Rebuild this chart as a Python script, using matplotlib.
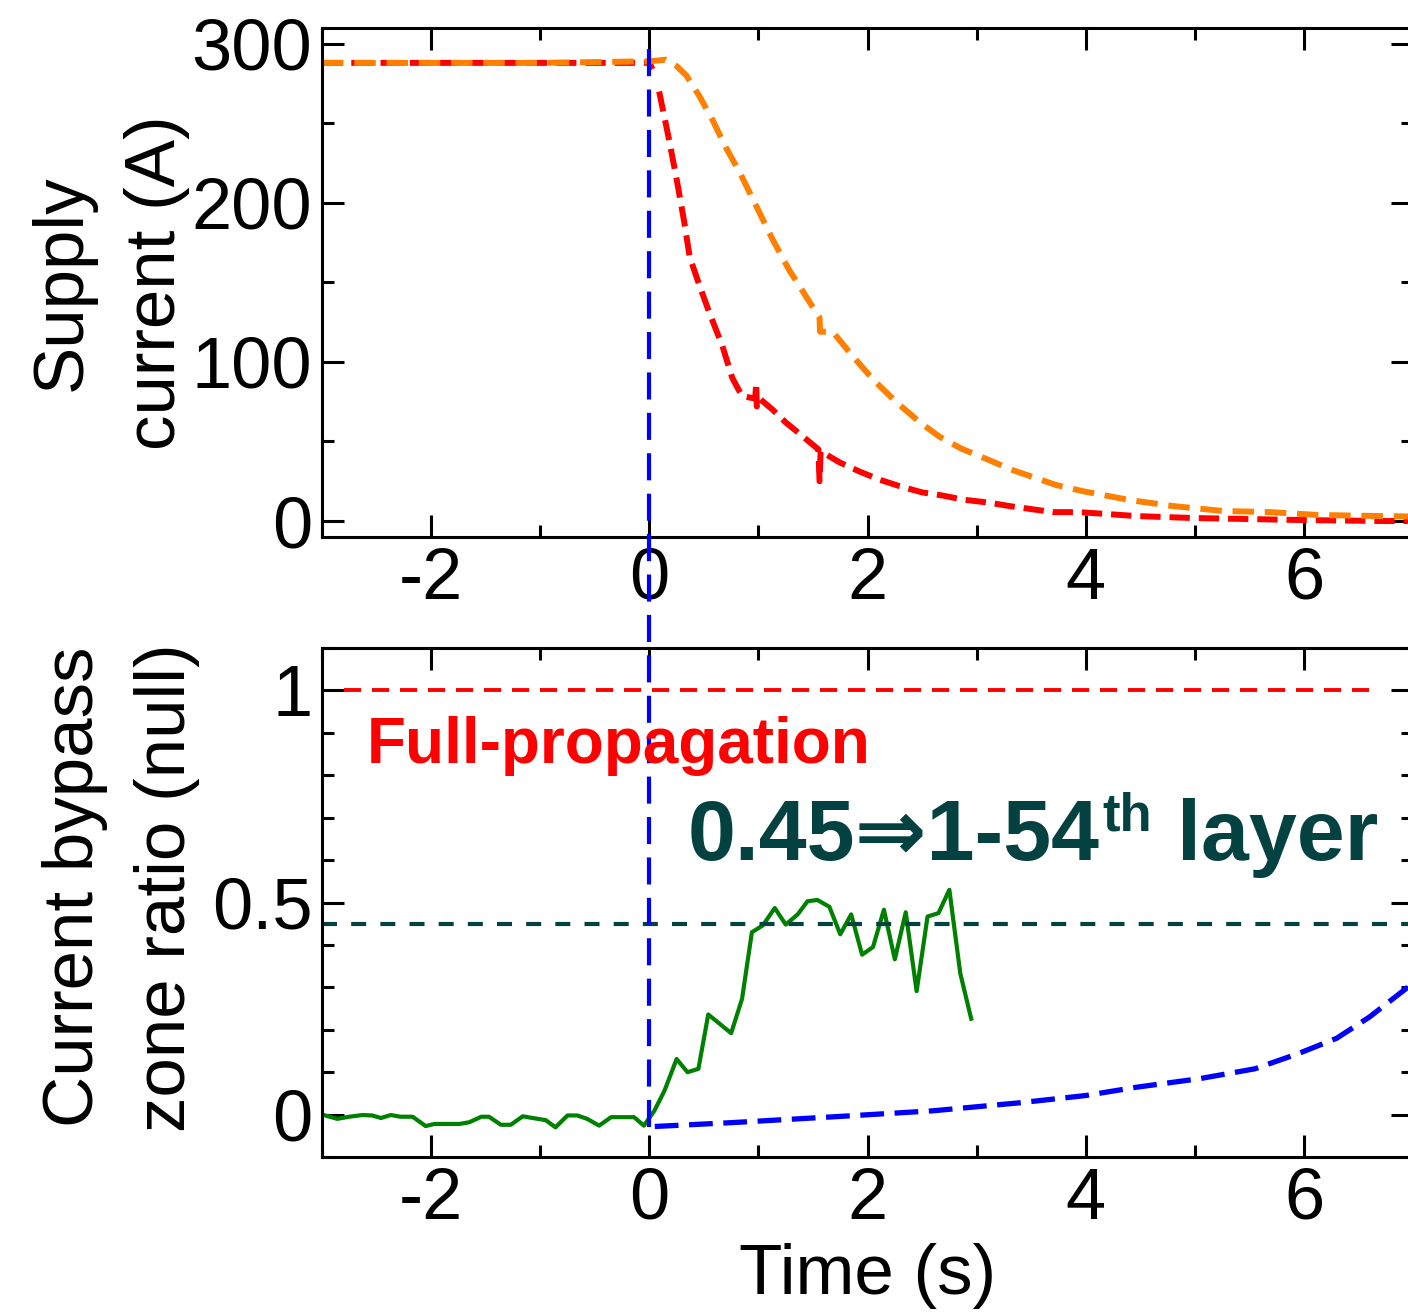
import numpy as np
import matplotlib.pyplot as plt
from matplotlib.ticker import MultipleLocator

plt.rcParams['font.family'] = ['Liberation Sans', 'DejaVu Sans']
plt.rcParams['axes.unicode_minus'] = False

# supply current after the quench (A)
red_t = [-3.0, -2.5, -2.0, -1.5, -1.0, -0.5, 0.0, 0.03, np.nan,
         0.09, 0.18, 0.25, 0.32, 0.37, 0.46, 0.55, 0.67, 0.76, 0.85, 0.97,
         0.98, 0.985, 1.01, 1.13, 1.25, 1.41, 1.55, 1.56, 1.57, 1.74, 1.93,
         2.11, 2.29, 2.5, 2.69, 2.87, 3.12, 3.3, 3.7, 3.94, 4.19, 4.47, 4.98,
         5.44, 5.99, 6.72, 7.0]
red_i = [288, 288, 288, 288, 288, 288, 288, 284, np.nan,
         270, 240, 215, 188, 166, 148, 131, 110, 90, 78.5, 77,
         87, 72, 77, 70, 62, 53, 45, 25, 44, 37, 31,
         26, 22, 18, 16, 13.5, 11.5, 9.4, 5.6, 5.6, 4.4, 3.1, 1.9,
         1.3, 0.6, 0.0, 0.0]

orange_t = [-3.0, -2.0, -1.0, 0.0, 0.15, 0.25, 0.34, 0.46, 0.58, 0.7, 0.83,
            0.98, 1.13, 1.28, 1.41, 1.53, 1.56, 1.565, 1.68, 1.86, 2.05, 2.26,
            2.48, 2.66, 2.86, 3.09, 3.33, 3.73, 3.97, 4.4, 4.8, 5.26, 5.69,
            6.12, 6.72, 7.0]
orange_i = [288, 288, 288, 289, 290, 286, 280, 267, 252, 235, 219,
            198, 177, 158, 144, 131, 128, 119, 119, 104, 89, 75,
            62, 53, 45.5, 39, 32, 22.6, 18.8, 13.2, 9.4, 6.3, 5.6,
            3.8, 3.1, 2.8]

# measured current bypass zone ratio
green_t = [-3.0, -2.86, -2.75, -2.63, -2.54, -2.46, -2.37, -2.28, -2.17,
           -2.05, -1.97, -1.74, -1.65, -1.54, -1.47, -1.36, -1.27, -1.16,
           -1.07, -0.95, -0.86, -0.75, -0.66, -0.57, -0.46, -0.35, -0.14,
           -0.05, 0.046, 0.14, 0.25, 0.35, 0.45, 0.54, 0.75, 0.85, 0.94,
           1.04, 1.15, 1.25, 1.36, 1.45, 1.54, 1.65, 1.75, 1.85, 1.95, 2.05,
           2.15, 2.25, 2.35, 2.45, 2.55, 2.65, 2.75, 2.85, 2.95]
green_r = [0.0, -0.01, -0.005, -0.001, -0.002, -0.008, -0.001, -0.005,
           -0.005, -0.027, -0.022, -0.022, -0.018, -0.005, -0.005, -0.024,
           -0.024, -0.004, -0.008, -0.013, -0.03, -0.002, -0.002, -0.01,
           -0.026, -0.006, -0.006, -0.026, 0.009, 0.057, 0.131, 0.1, 0.108,
           0.236, 0.192, 0.273, 0.43, 0.446, 0.487, 0.448, 0.472, 0.503,
           0.506, 0.49, 0.425, 0.472, 0.377, 0.395, 0.483, 0.366, 0.477,
           0.291, 0.467, 0.475, 0.53, 0.333, 0.226]

# calculated bypass zone ratio
calc_t = [0.05, 0.75, 1.7, 2.6, 3.4, 4.0, 4.45, 5.05, 5.55, 5.95, 6.3, 6.6,
          6.95, 7.1]
calc_r = [-0.028, -0.019, -0.005, 0.009, 0.028, 0.045, 0.064, 0.085, 0.108,
          0.144, 0.18, 0.23, 0.30, 0.33]

full_ratio = 1.0
fitted_ratio = 0.45

fig = plt.figure(figsize=(14.08, 13.16), dpi=100)
ax1 = fig.add_axes([0.2287, 0.5920, 0.7749, 0.3868])
ax2 = fig.add_axes([0.2287, 0.1208, 0.7749, 0.3868])


def style(ax):
    for s in ax.spines.values():
        s.set_linewidth(2.2)
    ax.tick_params(which='both', direction='in', top=True, right=True,
                   width=2.2, labelsize=52, pad=7)
    ax.tick_params(which='major', length=16)
    ax.tick_params(which='minor', length=8.5)
    ax.xaxis.set_major_locator(MultipleLocator(2))
    ax.xaxis.set_minor_locator(MultipleLocator(1))
    ax.set_xlim(-3, 7)


# top panel
style(ax1)
ax1.plot(red_t, red_i, color='#ff0000', lw=4.3, dashes=(3.4, 1.5))
ax1.plot(orange_t, orange_i, color='#ff8000', lw=4.3, dashes=(3.6, 1.8))
ax1.set_ylim(-10, 310)
ax1.yaxis.set_major_locator(MultipleLocator(100))
ax1.yaxis.set_minor_locator(MultipleLocator(50))
ax1.set_ylabel('Supply\ncurrent (A)', fontsize=51, linespacing=1.55)
ax1.yaxis.set_label_coords(-0.121, 0.5)

# bottom panel
style(ax2)
ax2.plot(green_t, green_r, color='#008000', lw=3.0)
ax2.plot(calc_t, calc_r, color='#0000ff', lw=3.8, dashes=(4.5, 2))
ax2.plot([-2.8, 6.6], [full_ratio, full_ratio], color='#ff0000', lw=2.8,
         dashes=(4.4, 2.8))
ax2.axhline(fitted_ratio, color='#044241', lw=3.0, dashes=(3.6, 3.4))
ax2.set_ylim(-0.1, 1.1)
ax2.yaxis.set_major_locator(MultipleLocator(0.5))
ax2.yaxis.set_minor_locator(MultipleLocator(0.1))
ax2.yaxis.set_major_formatter(lambda v, p: f'{v:g}')
ax2.set_ylabel('Current bypass\nzone ratio (null)', fontsize=51, linespacing=1.5)
ax2.yaxis.set_label_coords(-0.112, 0.53)
ax2.set_xlabel('Time (s)', fontsize=51)
ax2.xaxis.set_label_coords(0.5, -0.168)

# quench onset marker running through both panels
y_pix = ax1.transData.transform((0, 298))[1]
y_top = ax2.transData.inverted().transform((0, y_pix))[1]
ax2.plot([0, 0], [-0.03, y_top], color='#0000ff', lw=3.0, dashes=(6.5, 3.2),
         clip_on=False)

ax2.text(-2.59, 0.83, 'Full-propagation', color='#ff0000', fontsize=46,
         fontweight='bold')
t1 = ax2.text(0.35, 0.6, '0.45⇒1-54', color='#044241', fontsize=62,
              fontweight='bold')
t2 = ax2.annotate('th', xy=(1, 0.6), xycoords=(t1, 'data'), xytext=(2, 21),
                  textcoords='offset points', color='#044241', fontsize=38,
                  fontweight='bold', va='baseline')
ax2.annotate('layer', xy=(1, 0.6), xycoords=(t2, 'data'), xytext=(18, 0),
             textcoords='offset points', color='#044241', fontsize=62,
             fontweight='bold', va='baseline')

fig.savefig('out.png', dpi=100)
